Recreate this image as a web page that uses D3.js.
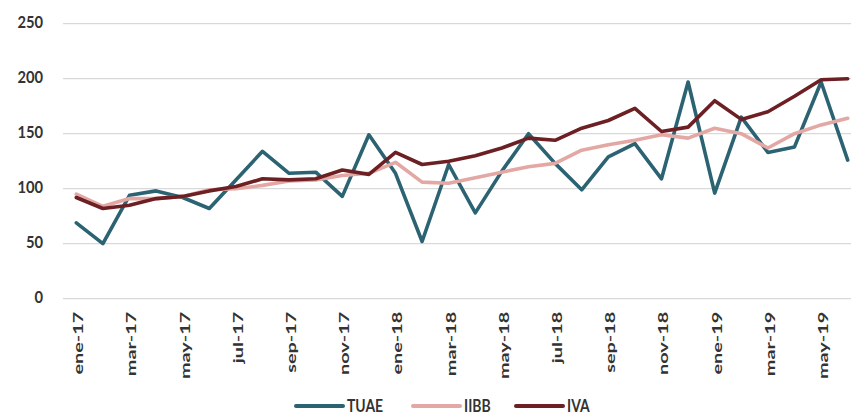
<!DOCTYPE html>
<html>
<head>
<meta charset="utf-8">
<script src="https://cdn.jsdelivr.net/npm/d3@7"></script>
<style>
  html, body { margin: 0; padding: 0; background: #fff; }
  svg { display: block; }
</style>
</head>
<body>
<svg id="chart"></svg>
<script>
// months ene-17 .. jun-19
const months = ["ene-17","feb-17","mar-17","abr-17","may-17","jun-17","jul-17","ago-17","sep-17","oct-17","nov-17","dic-17",
                "ene-18","feb-18","mar-18","abr-18","may-18","jun-18","jul-18","ago-18","sep-18","oct-18","nov-18","dic-18",
                "ene-19","feb-19","mar-19","abr-19","may-19","jun-19"];

const tuae = [69, 50, 94, 98, 92, 82, 108, 134, 114, 115, 93, 149,
              114, 52, 122, 78, 116, 150, 123, 99, 129, 141, 109, 197,
              96, 165, 133, 138, 197, 126];
const iibb = [95, 84, 91, 91, 93, 99, 100, 103, 107, 108, 112, 114,
              124, 106, 105, 110, 115, 120, 123, 135, 140, 144, 149, 146,
              155, 150, 137, 150, 158, 164];
const iva  = [92, 82, 85, 91, 93, 98, 102, 109, 108, 109, 117, 113,
              133, 122, 125, 130, 137, 146, 144, 155, 162, 173, 152, 156,
              180, 163, 170, 184, 199, 200];

const yTicks = [0, 50, 100, 150, 200, 250];
const seriesNames = ["TUAE", "IIBB", "IVA"];

let layout = {"width": 851, "height": 416,
              "plotLeft": 63, "plotRight": 861,
              "plotTop": 23.7, "plotBottom": 298.7};

const colors = d3.scaleOrdinal()
                 .domain(seriesNames)
                 .range(["#2b6373", "#e3a7a4", "#6d2024"]);

const font = "Lato, 'Open Sans', sans-serif";
const textColor = "#333333";

let svg = d3.select("#chart")
            .attr("width", layout.width)
            .attr("height", layout.height);

let xScale = d3.scaleBand()
               .domain(months)
               .range([layout.plotLeft, layout.plotRight]);

let yScale = d3.scaleLinear()
               .domain([0, 250])
               .range([layout.plotBottom, layout.plotTop]);

// gridlines
svg.append("g")
   .selectAll("line")
   .data(yTicks)
   .join("line")
   .attr("x1", layout.plotLeft)
   .attr("x2", layout.plotRight)
   .attr("y1", d => yScale(d))
   .attr("y2", d => yScale(d))
   .attr("stroke", "#d9d9d9")
   .attr("stroke-width", 1.2);

// y axis labels (the picture is a bit stretched vertically, hence the scale)
svg.append("g")
   .selectAll("text")
   .data(yTicks)
   .join("text")
   .attr("transform", d => `translate(43, ${yScale(d) - 2}) scale(1.05, 1.2)`)
   .attr("dy", "0.35em")
   .attr("text-anchor", "end")
   .attr("font-family", font)
   .attr("font-weight", "bold")
   .attr("font-size", 14)
   .attr("fill", textColor)
   .text(d => d);

// x axis labels, every second month
let xAxis = d3.axisBottom(xScale)
              .tickValues(months.filter((d, i) => i % 2 === 0))
              .tickSize(0)
              .tickPadding(0);

let xg = svg.append("g")
            .attr("transform", `translate(2, ${layout.plotBottom + 13})`)
            .call(xAxis);
xg.select(".domain").remove();
xg.selectAll("text")
  .attr("transform", "rotate(-90) scale(1.42, 1)")
  .attr("x", 0)
  .attr("y", 0)
  .attr("dx", 0)
  .attr("dy", "0.35em")
  .attr("text-anchor", "end")
  .attr("font-family", font)
  .attr("font-weight", "bold")
  .attr("font-size", 14)
  .attr("fill", textColor);

// lines
let line = d3.line()
             .x((d, i) => xScale(months[i]) + xScale.bandwidth() / 2)
             .y(d => yScale(d));

const seriesData = [tuae, iibb, iva];

svg.append("g")
   .selectAll("path")
   .data(seriesData)
   .join("path")
   .attr("d", d => line(d))
   .attr("fill", "none")
   .attr("stroke", (d, i) => colors(seriesNames[i]))
   .attr("stroke-width", 3.6)
   .attr("stroke-linejoin", "round")
   .attr("stroke-linecap", "round");

// legend
const legendX = [296, 413, 516];
const legendY = 406;
let legend = svg.append("g");
legend.selectAll("line")
      .data(seriesNames)
      .join("line")
      .attr("x1", (d, i) => legendX[i])
      .attr("x2", (d, i) => legendX[i] + 47)
      .attr("y1", legendY)
      .attr("y2", legendY)
      .attr("stroke", d => colors(d))
      .attr("stroke-width", 4)
      .attr("stroke-linecap", "round");
legend.selectAll("text")
      .data(seriesNames)
      .join("text")
      .attr("transform", (d, i) => `translate(${legendX[i] + 51}, ${legendY}) scale(0.82, 1)`)
      .attr("dy", "0.36em")
      .attr("font-family", font)
      .attr("font-weight", "bold")
      .attr("font-size", 17)
      .attr("fill", textColor)
      .text(d => d);
</script>
</body>
</html>
